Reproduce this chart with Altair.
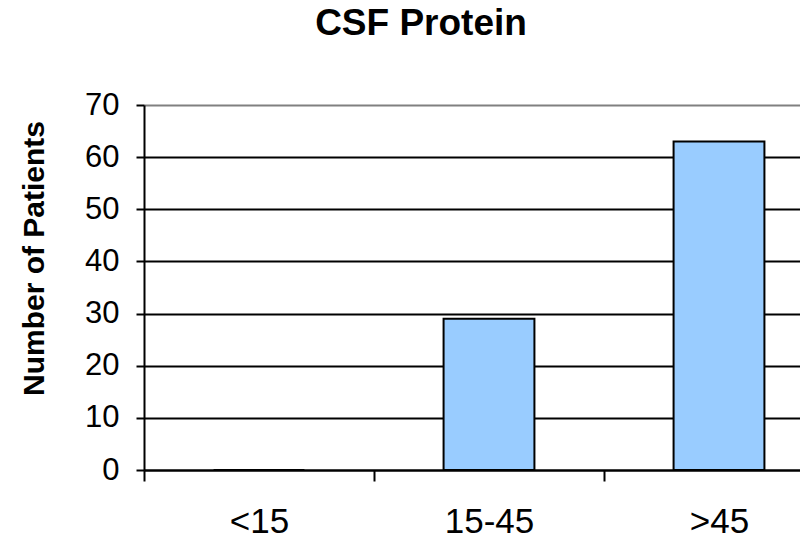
import altair as alt
import pandas as pd

categories = ["<15", "15-45", ">45"]
patients = [0, 29, 63]
y_ticks = [0, 10, 20, 30, 40, 50, 60, 70]

df = pd.DataFrame({"range": categories, "patients": patients})

FONT = "Liberation Sans"

bars = alt.Chart(df).mark_bar(
    fill="#99CCFF", stroke="black", strokeWidth=2,
    width=alt.RelativeBandSize(0.395),
).encode(
    x=alt.X(
        "range:N",
        sort=categories,
        scale=alt.Scale(range=[0, 690], paddingInner=0, paddingOuter=0),
        axis=alt.Axis(
            title=None,
            labelAngle=0,
            labelFont=FONT,
            labelFontSize=35,
            labelColor="black",
            labelBaseline="alphabetic",
            labelPadding=51,
            tickBand="extent",
            tickSize=11,
            tickWidth=2,
            tickColor="black",
            domainColor="black",
            domainWidth=2,
            grid=False,
        ),
    ),
    y=alt.Y(
        "patients:Q",
        scale=alt.Scale(domain=[0, 70], nice=False),
        axis=alt.Axis(
            title="Number of Patients",
            titleFont=FONT,
            titleFontSize=30,
            titleFontWeight="bold",
            titleColor="black",
            titleAngle=270,
            titleAlign="center",
            titleBaseline="alphabetic",
            titleX=-101,
            titleY=153,
            values=y_ticks,
            labelFont=FONT,
            labelFontSize=31,
            labelColor="black",
            labelPadding=17,
            tickSize=8,
            tickWidth=2,
            tickColor="black",
            domainColor="black",
            domainWidth=2,
            grid=True,
            gridColor={"condition": {"test": "datum.value === 70", "value": "#808080"}, "value": "black"},
            gridWidth=2,
        ),
    ),
)

chart = bars.properties(
    width=656,
    height=365,
    autosize=alt.AutoSizeParams(type="none"),
    padding={"left": 144, "top": 105, "right": 0, "bottom": 68},
    title=alt.TitleParams(
        "CSF Protein",
        font=FONT,
        fontSize=37,
        fontWeight="bold",
        color="black",
        anchor="middle",
        frame="group",
        dx=-51,
        baseline="alphabetic",
        offset=17,
    ),
).configure_view(stroke=None).configure(background="white")

chart.save("out.html", embed_options={"renderer": "svg", "actions": False})
